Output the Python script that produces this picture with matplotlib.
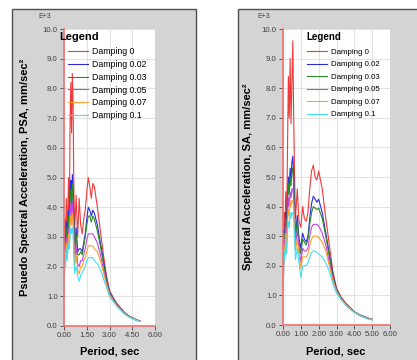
import numpy as np
import matplotlib
matplotlib.use("Agg")
import matplotlib.pyplot as plt
from matplotlib.patches import Rectangle
from matplotlib.ticker import FormatStrFormatter

plt.rcParams['font.family'] = ['Liberation Sans', 'DejaVu Sans']

periods = [0.02, 0.05, 0.1, 0.15, 0.2, 0.25, 0.3, 0.35, 0.4, 0.45, 0.5, 0.55, 0.6, 0.65,
           0.7, 0.8, 0.9, 1.0, 1.1, 1.2, 1.3, 1.4, 1.5, 1.6, 1.7, 1.8, 1.9, 2.0, 2.2, 2.4,
           2.6, 2.8, 3.0, 3.25, 3.5, 3.75, 4.0, 4.25, 4.5, 4.75, 5.0]

labels = ["Damping 0", "Damping 0.02", "Damping 0.03", "Damping 0.05", "Damping 0.07", "Damping 0.1"]
colors = ["#f03a3a", "#2a2ad8", "#2a8a2a", "#c048e0", "#ffa030", "#40e0f0"]

# left chart: pseudo spectral acceleration (E+3 mm/sec^2)
psa_d0 = [1.2, 3.6, 2.6, 4.3, 3.0, 3.9, 5.0, 3.6, 6.8, 8.2, 6.5, 8.5, 7.5, 4.6, 3.2, 4.4, 3.0, 4.3, 3.4, 3.1, 3.6,
          3.9, 4.5, 5.0, 4.7, 4.3, 4.8, 4.7, 4.0, 3.2, 2.4, 1.7, 1.2, 0.95, 0.75, 0.6, 0.45, 0.35, 0.28, 0.22, 0.17]
psa_d002 = [1.2, 3.0, 2.4, 3.5, 2.8, 3.4, 3.9, 3.3, 4.6, 4.9, 4.2, 5.1, 4.6, 3.5, 2.6, 3.3, 2.5, 2.6, 2.6, 2.5, 2.8,
            3.1, 3.6, 4.0, 3.9, 3.7, 3.9, 3.8, 3.4, 2.8, 2.2, 1.6, 1.15, 0.92, 0.72, 0.58, 0.44, 0.34, 0.27, 0.21, 0.17]
psa_d003 = [1.2, 2.9, 2.3, 3.3, 2.7, 3.2, 3.7, 3.2, 4.3, 4.6, 4.0, 4.8, 4.3, 3.3, 2.5, 3.1, 2.4, 2.4, 2.5, 2.4, 2.7,
            3.0, 3.4, 3.7, 3.7, 3.5, 3.7, 3.6, 3.2, 2.7, 2.1, 1.55, 1.12, 0.9, 0.71, 0.57, 0.43, 0.33, 0.27, 0.21, 0.16]
psa_d005 = [1.2, 2.7, 2.2, 3.0, 2.5, 2.9, 3.3, 3.0, 3.8, 4.1, 3.7, 4.2, 3.8, 3.0, 2.2, 2.7, 2.1, 2.0, 2.2, 2.2, 2.4,
            2.6, 2.9, 3.1, 3.1, 3.1, 3.1, 3.0, 2.8, 2.4, 1.9, 1.45, 1.08, 0.87, 0.69, 0.55, 0.42, 0.33, 0.26, 0.2, 0.16]
psa_d007 = [1.2, 2.5, 2.1, 2.8, 2.4, 2.7, 3.1, 2.8, 3.5, 3.7, 3.4, 3.8, 3.5, 2.7, 2.0, 2.4, 1.9, 1.75, 2.0, 2.0, 2.2,
            2.3, 2.5, 2.7, 2.7, 2.7, 2.7, 2.6, 2.5, 2.2, 1.8, 1.4, 1.05, 0.85, 0.67, 0.54, 0.41, 0.32, 0.26, 0.2, 0.16]
psa_d01 = [1.2, 2.3, 2.0, 2.6, 2.2, 2.5, 2.8, 2.6, 3.1, 3.3, 3.1, 3.3, 3.1, 2.4, 1.8, 2.0, 1.7, 1.5, 1.7, 1.8, 1.9,
           2.0, 2.2, 2.3, 2.3, 2.3, 2.3, 2.2, 2.1, 1.9, 1.6, 1.3, 1.0, 0.82, 0.65, 0.52, 0.4, 0.31, 0.25, 0.19, 0.15]

# right chart: spectral acceleration (E+3 mm/sec^2)
sa_d0 = [1.3, 3.8, 2.8, 4.5, 3.2, 5.8, 8.4, 7.0, 9.0, 6.8, 8.2, 9.6, 7.0, 5.0, 3.6, 4.6, 3.5, 3.3, 4.0, 3.6, 3.5,
         3.8, 4.6, 5.2, 5.4, 5.0, 4.9, 5.2, 4.6, 3.6, 2.7, 1.8, 1.25, 0.95, 0.75, 0.6, 0.45, 0.36, 0.3, 0.24, 0.19]
sa_d002 = [1.3, 3.2, 2.6, 3.8, 3.0, 4.3, 5.0, 4.6, 5.3, 4.9, 5.5, 5.7, 5.0, 3.9, 3.0, 3.7, 2.9, 2.6, 3.1, 2.9, 2.8,
           3.0, 3.6, 4.1, 4.35, 4.25, 4.15, 4.25, 3.8, 3.1, 2.4, 1.7, 1.2, 0.93, 0.73, 0.58, 0.44, 0.35, 0.29, 0.23, 0.19]
sa_d003 = [1.3, 3.1, 2.5, 3.6, 2.9, 4.1, 4.8, 4.4, 5.0, 4.7, 5.2, 5.3, 4.8, 3.7, 2.9, 3.5, 2.8, 2.4, 2.9, 2.8, 2.7,
           2.9, 3.4, 3.8, 4.0, 3.95, 3.9, 3.95, 3.6, 3.0, 2.3, 1.65, 1.18, 0.92, 0.72, 0.57, 0.44, 0.35, 0.28, 0.23, 0.18]
sa_d005 = [1.3, 2.9, 2.4, 3.3, 2.7, 3.7, 4.3, 4.0, 4.5, 4.3, 4.6, 4.6, 4.3, 3.4, 2.7, 3.2, 2.6, 2.1, 2.6, 2.5, 2.5,
           2.6, 3.0, 3.3, 3.4, 3.4, 3.4, 3.35, 3.1, 2.7, 2.1, 1.55, 1.15, 0.9, 0.71, 0.56, 0.43, 0.34, 0.28, 0.22, 0.18]
sa_d007 = [1.3, 2.7, 2.3, 3.1, 2.6, 3.4, 3.9, 3.7, 4.2, 4.0, 4.2, 4.2, 4.0, 3.2, 2.5, 2.9, 2.4, 1.9, 2.3, 2.3, 2.3,
           2.4, 2.7, 2.9, 3.0, 3.0, 3.0, 2.95, 2.8, 2.5, 2.0, 1.5, 1.12, 0.88, 0.7, 0.55, 0.43, 0.34, 0.27, 0.22, 0.18]
sa_d01 = [1.3, 2.5, 2.2, 2.8, 2.4, 3.1, 3.5, 3.3, 3.8, 3.6, 3.8, 3.8, 3.6, 2.9, 2.2, 2.6, 2.1, 1.6, 2.0, 2.0, 2.0,
          2.1, 2.3, 2.45, 2.5, 2.5, 2.45, 2.4, 2.3, 2.1, 1.8, 1.4, 1.08, 0.86, 0.68, 0.54, 0.42, 0.33, 0.27, 0.21, 0.17]

left_series = [psa_d0, psa_d002, psa_d003, psa_d005, psa_d007, psa_d01]
right_series = [sa_d0, sa_d002, sa_d003, sa_d005, sa_d007, sa_d01]

W, H = 417, 360
fig = plt.figure(figsize=(W / 100, H / 100), dpi=100)
fig.patch.set_facecolor("white")

# grey panel frames
for x0, x1 in [(12, 196), (238, 420)]:
    fig.patches.append(Rectangle((x0 / W, -0.01), (x1 - x0) / W, (H - 9) / H + 0.01, transform=fig.transFigure,
                                 facecolor="#d4d4d4", edgecolor="#505050", linewidth=1.0, zorder=-10))


def make_panel(rect, series, xticks, ylabel, ylabel_x, xlabel_x, leg_px, leg_top, leg_fs, leg_sp,
               title_px, title_fs):
    left, right, top, bottom = rect
    ax = fig.add_axes([left / W, (H - bottom) / H, (right - left) / W, (bottom - top) / H])
    ax.set_facecolor("white")
    for vals, lab, col in zip(series, labels, colors):
        ax.plot(periods, vals, color=col, lw=0.8, label=lab)
    ax.set_xlim(0, 6)
    ax.set_ylim(0, 10)
    ax.set_xticks(xticks)
    ax.set_yticks(np.arange(0, 11, 1))
    ax.xaxis.set_major_formatter(FormatStrFormatter("%.2f"))
    ax.yaxis.set_major_formatter(FormatStrFormatter("%.1f"))
    ax.tick_params(labelsize=5.6, colors="#404040", length=3, width=0.6, pad=1.5)
    ax.grid(True, color="#e2e2e2", lw=0.8)
    ax.set_axisbelow(True)
    for s in ["top", "right"]:
        ax.spines[s].set_visible(False)
    for s in ["left", "bottom"]:
        ax.spines[s].set_color("#f07070")
        ax.spines[s].set_linewidth(1.2)
    pad = 0.4 * leg_fs * 100 / 72
    ax.legend(loc="upper left", bbox_to_anchor=((leg_px - pad) / W, (H - leg_top + pad) / H),
              bbox_transform=fig.transFigure, frameon=False, fontsize=leg_fs,
              handlelength=20 / (leg_fs * 100 / 72), handletextpad=0.5,
              labelspacing=leg_sp, borderaxespad=0.0)
    fig.text(title_px / W, (H - 37) / H, "Legend", fontsize=title_fs, fontweight="bold",
             ha="left", va="center")
    fig.text((left - 26) / W, (H - 16) / H, "E+3", fontsize=5, color="#404040", ha="left", va="center")
    fig.text(ylabel_x / W, (H - 177) / H, ylabel, rotation=90, fontsize=8, fontweight="bold",
             ha="center", va="center")
    fig.text(xlabel_x / W, (H - 351) / H, "Period, sec", fontsize=8, fontweight="bold",
             ha="center", va="center")
    return ax


make_panel((64, 155, 29, 326), left_series, [0, 1.5, 3.0, 4.5, 6.0],
           "Psuedo Spectral Acceleration, PSA, mm/sec\u00b2", 25, 110, 68, 47.5, 6.3, 0.42, 59, 8)
make_panel((283, 390, 29, 325), right_series, [0, 1, 2, 3, 4, 5, 6],
           "Spectral Acceleration, SA, mm/sec\u00b2", 248, 336, 307, 48.5, 5.7, 0.62, 306, 7)

fig.savefig("out.png", dpi=100)
